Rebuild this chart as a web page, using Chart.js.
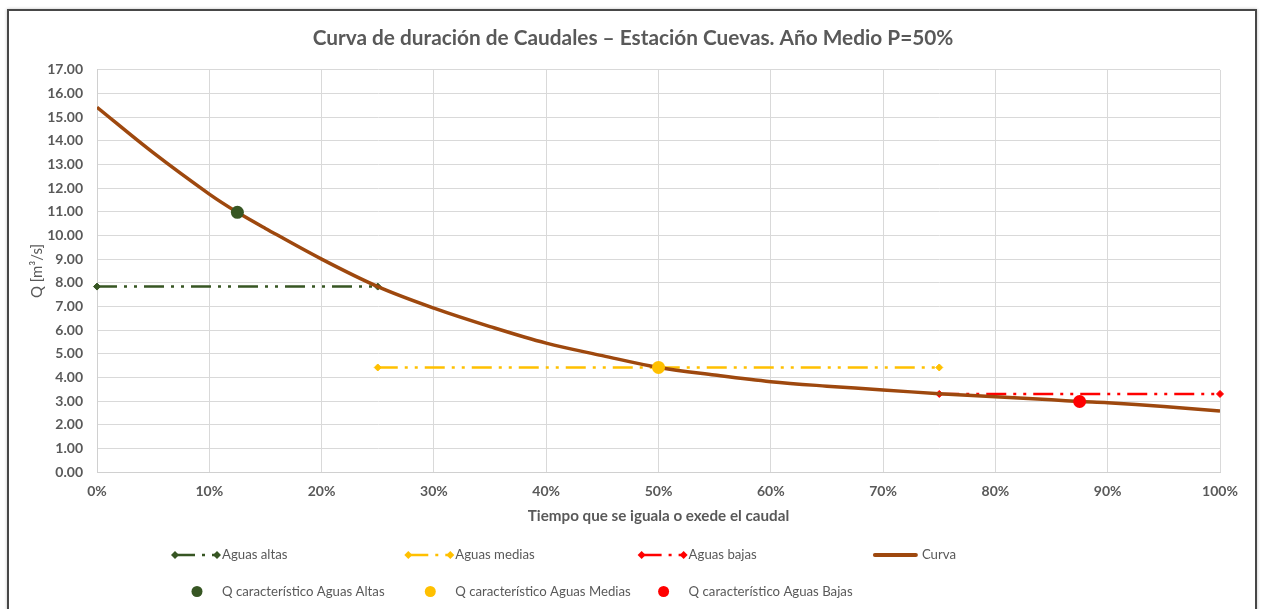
<!DOCTYPE html>
<html lang="es">
<head>
<meta charset="utf-8">
<title>Curva de duración de Caudales</title>
<script src="https://cdn.jsdelivr.net/npm/chart.js@4.4.1/dist/chart.umd.min.js"></script>
<style>
  html, body { margin: 0; padding: 0; background: #fff; overflow: hidden; }
  #frame { position: absolute; left: 7px; top: 9px; width: 1246px; height: 700px;
           border: 2px solid #474747; box-shadow: 0 0 3px rgba(0,0,0,0.25); }
  #wrap { position: absolute; left: 0; top: 0; width: 1262px; height: 609px; }
</style>
</head>
<body>
<div id="frame"></div>
<div id="wrap"><canvas id="curvaChart"></canvas></div>
<script>
// Curva de duración: % de tiempo y caudal (m³/s)
const tiempoCurva = [0, 5, 10, 12.5, 15, 20, 25, 30, 35, 40, 45, 50, 55, 60, 65, 70, 75, 80, 85, 87.5, 90, 95, 100];
const caudalCurva = [15.42, 13.5, 11.75, 10.98, 10.3, 9.0, 7.84, 6.93, 6.15, 5.45, 4.92, 4.42, 4.1, 3.82, 3.63, 3.47, 3.31, 3.18, 3.05, 2.98, 2.93, 2.77, 2.58];

// Tramos horizontales de cada régimen
const tiempoAguasAltas = [0, 25];
const caudalAguasAltas = [7.84, 7.84];
const tiempoAguasMedias = [25, 75];
const caudalAguasMedias = [4.42, 4.42];
const tiempoAguasBajas = [75, 100];
const caudalAguasBajas = [3.3, 3.3];

// Caudal característico: altas, medias, bajas
const tiempoQCaract = [12.5, 50, 87.5];
const caudalQCaract = [10.98, 4.42, 2.98];

const ticksY = { min: 0, max: 17, paso: 1 };
const ticksX = { min: 0, max: 100, paso: 10 };

const VERDE = '#375623';
const AMARILLO = '#FFC000';
const ROJO = '#FF0000';
const MARRON = '#9E480E';
const TEXTO = '#595959';
const GUION = [20, 7, 3, 7, 3, 7];

function puntos(xs, ys) {
    return xs.map((x, i) => ({ x: x, y: ys[i] }));
}

function tramo(label, xs, ys, color) {
    return {
        label: label,
        data: puntos(xs, ys),
        borderColor: color,
        backgroundColor: color,
        borderWidth: 2.5,
        borderDash: GUION,
        pointStyle: 'rectRot',
        pointRadius: 3.5,
        pointBorderWidth: 1,
        order: 2,
        clip: 8
    };
}

function qCaract(label, i, color) {
    return {
        label: label,
        data: [{ x: tiempoQCaract[i], y: caudalQCaract[i] }],
        borderColor: color,
        backgroundColor: color,
        showLine: false,
        pointStyle: 'circle',
        pointRadius: 6.5,
        pointBorderWidth: 0,
        order: 0,
        clip: 8
    };
}

const datasets = [
    tramo('Aguas altas', tiempoAguasAltas, caudalAguasAltas, VERDE),
    tramo('Aguas medias', tiempoAguasMedias, caudalAguasMedias, AMARILLO),
    tramo('Aguas bajas', tiempoAguasBajas, caudalAguasBajas, ROJO),
    {
        label: 'Curva',
        data: puntos(tiempoCurva, caudalCurva),
        borderColor: MARRON,
        backgroundColor: MARRON,
        borderWidth: 3.5,
        pointRadius: 0,
        tension: 0.35,
        order: 1
    },
    qCaract('Q característico Aguas Altas', 0, VERDE),
    qCaract('Q característico Aguas Medias', 1, AMARILLO),
    qCaract('Q característico Aguas Bajas', 2, ROJO)
];

// Leyenda en rejilla de cuatro columnas, dibujada bajo el eje X
const leyendaRejilla = {
    id: 'leyendaRejilla',
    afterDraw(chart) {
        const ctx = chart.ctx;
        const sets = chart.data.datasets;
        ctx.save();
        ctx.font = '13.2px Lato';
        ctx.textBaseline = 'middle';
        sets.forEach((ds, i) => {
            const fila = i < 4 ? 0 : 1;
            const col = fila === 0 ? i : i - 4;
            const x0 = 175 + col * 233.3;
            const y = fila === 0 ? 555 : 591.5;
            ctx.strokeStyle = ds.borderColor;
            ctx.fillStyle = ds.backgroundColor;
            if (ds.showLine === false) {
                ctx.beginPath();
                ctx.arc(x0 + 22, y, 5.5, 0, Math.PI * 2);
                ctx.fill();
            } else if (ds.pointRadius === 0) {
                ctx.lineWidth = 4;
                ctx.lineCap = 'round';
                ctx.beginPath();
                ctx.moveTo(x0, y);
                ctx.lineTo(x0 + 41, y);
                ctx.stroke();
                ctx.lineCap = 'butt';
            } else {
                ctx.lineWidth = ds.borderWidth;
                ctx.setLineDash(ds.borderDash);
                ctx.beginPath();
                ctx.moveTo(x0, y);
                ctx.lineTo(x0 + 42, y);
                ctx.stroke();
                ctx.setLineDash([]);
                [x0, x0 + 42].forEach(px => {
                    ctx.beginPath();
                    ctx.moveTo(px, y - 4);
                    ctx.lineTo(px + 4, y);
                    ctx.lineTo(px, y + 4);
                    ctx.lineTo(px - 4, y);
                    ctx.closePath();
                    ctx.fill();
                });
            }
            ctx.fillStyle = TEXTO;
            ctx.fillText(ds.label, x0 + 47, y);
        });
        ctx.restore();
    }
};

Chart.defaults.font.family = 'Lato';
Chart.defaults.color = TEXTO;

const canvas = document.getElementById('curvaChart');
const chart = new Chart(canvas.getContext('2d'), {
    type: 'line',
    data: { datasets: datasets },
    options: {
        responsive: true,
        maintainAspectRatio: false,
        animation: false,
        // izquierda 46 + eje Y 51 = 97; así el título queda centrado en el marco
        layout: { padding: { top: 0, left: 46, right: 42, bottom: 77 } },
        scales: {
            x: {
                type: 'linear',
                min: ticksX.min,
                max: ticksX.max,
                afterFit(scale) { scale.height = 60; },
                ticks: {
                    stepSize: ticksX.paso,
                    padding: 11,
                    color: TEXTO,
                    font: { size: 14, weight: 'bold' },
                    callback: v => v + '%'
                },
                grid: { color: '#D9D9D9', drawTicks: false },
                border: { color: '#D0D0D0' },
                title: {
                    display: true,
                    text: 'Tiempo que se iguala o exede el caudal',
                    color: TEXTO,
                    font: { size: 15.2, weight: 'bold' },
                    padding: { top: 0, bottom: 7 }
                }
            },
            y: {
                min: ticksY.min,
                max: ticksY.max,
                afterFit(scale) { scale.width = 51; },
                ticks: {
                    stepSize: ticksY.paso,
                    padding: 14,
                    color: TEXTO,
                    font: { size: 14, weight: 'bold' },
                    callback: v => v.toFixed(2)
                },
                grid: { color: '#D9D9D9', drawTicks: false },
                border: { color: '#D0D0D0' },
                title: {
                    display: true,
                    text: 'Q [m³/s]',
                    color: TEXTO,
                    font: { size: 15, weight: 'normal' },
                    padding: { top: -18, bottom: 0 }
                }
            }
        },
        plugins: {
            legend: { display: false },
            tooltip: { enabled: false },
            title: {
                display: true,
                text: 'Curva de duración de Caudales – Estación Cuevas. Año Medio P=50%',
                color: TEXTO,
                font: { size: 20.8, weight: 'bold' },
                padding: { top: 25.5, bottom: 19.5 }
            }
        }
    },
    plugins: [leyendaRejilla]
});
</script>
</body>
</html>
